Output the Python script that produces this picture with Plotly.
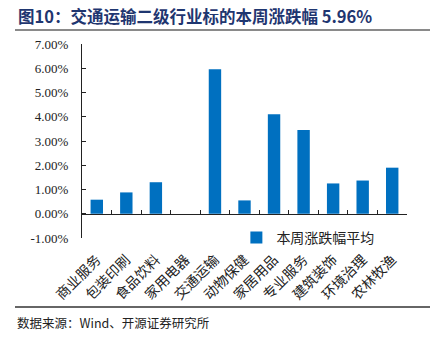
import plotly.graph_objects as go

categories = ["商业服务", "包装印刷", "食品饮料", "家用电器", "交通运输", "动物保健",
              "家居用品", "专业服务", "建筑装饰", "环境治理", "农林牧渔"]
values = [0.58, 0.88, 1.30, 0.0, 5.96, 0.55, 4.10, 3.45, 1.25, 1.37, 1.90]
series_name = "本周涨跌幅平均"
tick_vals = [-1, 0, 1, 2, 3, 4, 5, 6, 7]
tick_text = ["-1.00%", "0.00%", "1.00%", "2.00%", "3.00%", "4.00%", "5.00%", "6.00%", "7.00%"]
title_text = "图10：交通运输二级行业标的本周涨跌幅 5.96%"
source_text = "数据来源：Wind、开源证券研究所"

W, H = 435, 339
L, R, T, B = 82, 28, 44, 101
ymin, ymax = -1, 7

fig = go.Figure()
fig.add_trace(go.Bar(x=categories, y=values, name=series_name,
                     marker=dict(color="#0070C0", line=dict(width=0)),
                     xaxis="x", yaxis="y", showlegend=True))
# invisible trace on the label axis
fig.add_trace(go.Scatter(x=categories, y=values, mode="none", xaxis="x2", yaxis="y",
                         showlegend=False, hoverinfo="skip"))

zero_pos = (0 - ymin) / (ymax - ymin)

fig.update_layout(
    width=W, height=H,
    margin=dict(l=L, r=R, t=T, b=B),
    paper_bgcolor="white", plot_bgcolor="white",
    bargap=0.58,
    font=dict(family="Noto Sans CJK SC", size=13, color="#222"),
    xaxis=dict(type="category", categoryarray=categories, range=[-0.5, 10.5],
               anchor="free", position=zero_pos,
               showline=True, linecolor="#222", linewidth=1,
               ticks="inside", tickson="boundaries", ticklen=4, tickcolor="#222",
               showticklabels=False, showgrid=False, zeroline=False),
    xaxis2=dict(type="category", categoryarray=categories, range=[-0.5, 10.5],
                overlaying="x", anchor="y", side="bottom",
                showline=False, ticks="", showgrid=False, zeroline=False,
                tickangle=-45, ticklabelstandoff=10,
                tickfont=dict(family="Noto Sans CJK SC", size=14, color="#222")),
    yaxis=dict(range=[ymin, ymax], tickvals=tick_vals, ticktext=tick_text,
               showline=True, linecolor="#222", linewidth=1,
               ticks="inside", ticklen=4, tickcolor="#222",
               ticklabelstandoff=10,
               tickfont=dict(family="Liberation Serif", size=13, color="#222"),
               showgrid=False, zeroline=False),
    legend=dict(x=0.475, y=0.0, xanchor="left", yanchor="middle",
                bgcolor="rgba(0,0,0,0)", font=dict(family="Noto Sans CJK SC", size=14, color="#222"),
                itemwidth=30),
    shapes=[
        dict(type="line", xref="paper", yref="paper",
             x0=(15 - L) / (W - L - R), x1=(430 - L) / (W - L - R),
             y0=(H - 30 - B) / (H - T - B), y1=(H - 30 - B) / (H - T - B),
             line=dict(color="#8a8a8a", width=2)),
        dict(type="line", xref="paper", yref="paper",
             x0=(15 - L) / (W - L - R), x1=(430 - L) / (W - L - R),
             y0=(H - 307 - B) / (H - T - B), y1=(H - 307 - B) / (H - T - B),
             line=dict(color="#333", width=1.5)),
    ],
    annotations=[
        dict(text="<b>" + title_text + "</b>", xref="paper", yref="paper",
             x=(16 - L) / (W - L - R), y=(H - 16 - B) / (H - T - B),
             xanchor="left", yanchor="middle", showarrow=False,
             font=dict(family="Noto Sans CJK SC", size=16.5, color="#1F3670")),
        dict(text=source_text, xref="paper", yref="paper",
             x=(15 - L) / (W - L - R), y=(H - 322 - B) / (H - T - B),
             xanchor="left", yanchor="middle", showarrow=False,
             font=dict(family="Noto Sans CJK SC", size=12.5, color="#222")),
    ],
)

fig.write_html("out.html")
